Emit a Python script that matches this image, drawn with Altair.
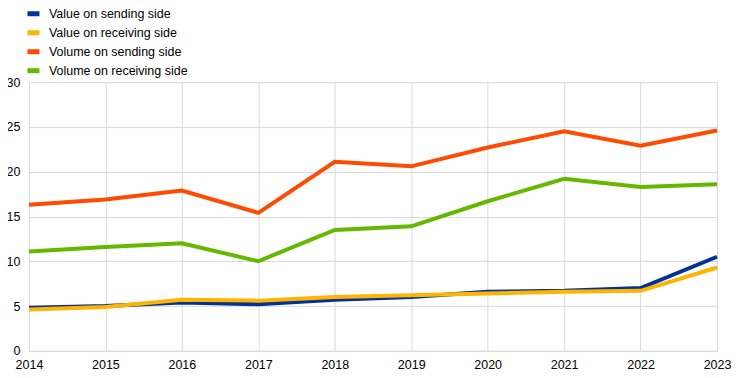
import altair as alt
import pandas as pd

years = [2014, 2015, 2016, 2017, 2018, 2019, 2020, 2021, 2022, 2023]
series_names = ["Value on sending side", "Value on receiving side",
                "Volume on sending side", "Volume on receiving side"]
value_sending = [4.8, 5.0, 5.4, 5.2, 5.7, 6.0, 6.6, 6.7, 7.0, 10.5]
value_receiving = [4.6, 4.9, 5.7, 5.6, 6.0, 6.2, 6.4, 6.6, 6.7, 9.3]
volume_sending = [16.3, 16.9, 17.9, 15.4, 21.1, 20.6, 22.7, 24.5, 22.9, 24.6]
volume_receiving = [11.1, 11.6, 12.0, 10.0, 13.5, 13.9, 16.7, 19.2, 18.3, 18.6]
colors = ["#003299", "#FFB400", "#FF4B00", "#65B800"]

vals = [value_sending, value_receiving, volume_sending, volume_receiving]
rows = []
for name, v in zip(series_names, vals):
    for yr, val in zip(years, v):
        rows.append({"year": yr, "value": val, "series": name})
df = pd.DataFrame(rows)

FONT = "Liberation Sans"

base = alt.Chart(df).encode(
    x=alt.X("year:Q", scale=alt.Scale(domain=[2014, 2023], nice=False),
            axis=alt.Axis(values=years, format="d", title=None, ticks=False,
                          labelFont=FONT, labelFontSize=12.5, labelColor="#000000",
                          labelPadding=8, domainColor="#d9d9d9",
                          gridColor="#d9d9d9", labelFlush=False)),
    y=alt.Y("value:Q", scale=alt.Scale(domain=[0, 30], nice=False),
            axis=alt.Axis(values=[0, 5, 10, 15, 20, 25, 30], title=None, ticks=False,
                          labelFont=FONT, labelFontSize=12.5, labelColor="#000000",
                          labelPadding=9, domain=False, gridColor="#d9d9d9")),
    color=alt.Color("series:N",
                    scale=alt.Scale(domain=series_names, range=colors),
                    legend=alt.Legend(title=None, orient="none", legendX=-4, legendY=-77,
                                      labelFont=FONT, labelFontSize=12.5, labelColor="#000000",
                                      symbolType="stroke", symbolSize=144,
                                      symbolStrokeWidth=5, rowPadding=-7, labelOffset=7)),
)

layers = []
for name in ["Volume on sending side", "Volume on receiving side",
             "Value on sending side", "Value on receiving side"]:
    layers.append(base.transform_filter(alt.datum.series == name)
                  .mark_line(strokeWidth=4, strokeJoin="miter"))

chart = alt.layer(*layers).properties(
    width=689, height=269,
    autosize=alt.AutoSizeParams(type="none"),
    padding={"left": 21, "top": 74, "right": 20, "bottom": 26},
).configure_view(stroke=None)

chart.save("out.html", embed_options={"renderer": "svg", "actions": False})
